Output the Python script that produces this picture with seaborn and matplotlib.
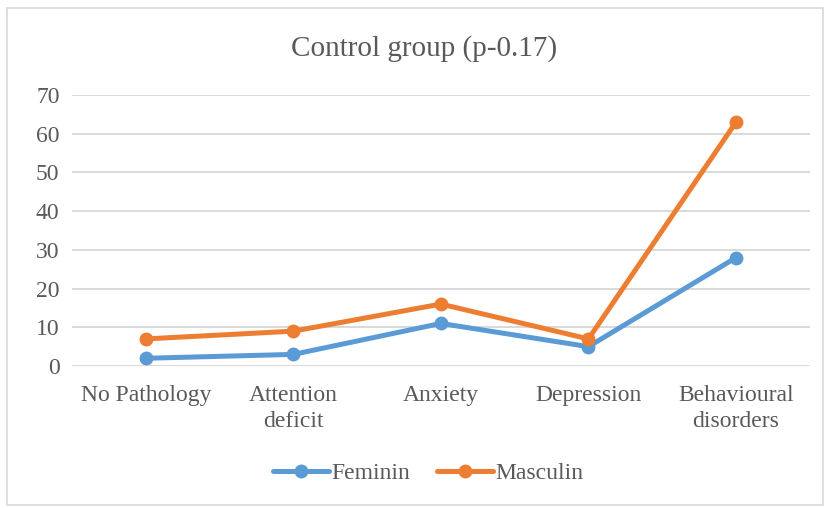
import matplotlib
matplotlib.use("Agg")
import matplotlib.pyplot as plt
import seaborn as sns
import pandas as pd
from matplotlib.patches import Rectangle
from matplotlib.lines import Line2D

categories = ["No Pathology", "Attention\ndeficit", "Anxiety", "Depression", "Behavioural\ndisorders"]
feminin = [2, 3, 11, 5, 28]
masculin = [7, 9, 16, 7, 63]
series_names = ["Feminin", "Masculin"]
yticks = [0, 10, 20, 30, 40, 50, 60, 70]

sns.set_theme(style="white")
plt.rcParams['font.family'] = ['Liberation Serif', 'DejaVu Serif']

rows = []
for i, c in enumerate(categories):
    rows.append({"x": i, "value": feminin[i], "series": series_names[0]})
    rows.append({"x": i, "value": masculin[i], "series": series_names[1]})
df = pd.DataFrame(rows)

fig = plt.figure(figsize=(8.28, 5.08), dpi=100)
ax = fig.add_axes([0.087, 0.2795, 0.891, 0.5335])

palette = {"Feminin": "#5B9BD5", "Masculin": "#ED7D31"}
sns.lineplot(data=df, x="x", y="value", hue="series", palette=palette,
             marker="o", markersize=10, linewidth=3.6, markeredgewidth=0,
             ax=ax, legend=False)

ax.set_xlim(-0.5, 4.5)
ax.set_ylim(0, 70)
ax.set_yticks(yticks)
ax.set_xticks(range(len(categories)))
ax.set_xticklabels(categories, fontsize=17, color="#595959", linespacing=1.3)
ax.set_yticklabels([str(v) for v in yticks], fontsize=17, color="#595959")
ax.tick_params(axis="x", length=0, pad=14)
ax.tick_params(axis="y", length=0, pad=9)
ax.yaxis.grid(True, color="#D9D9D9", linewidth=1.4)
ax.set_axisbelow(True)
for s in ax.spines.values():
    s.set_visible(False)
ax.set_xlabel("")
ax.set_ylabel("")

fig.text(0.512, 0.905, "Control group (p-0.17)", ha="center", va="center",
         fontsize=21, color="#595959")

handles = [Line2D([], [], color=palette[n], linewidth=3.6, marker="o", markersize=10,
                  markeredgewidth=0) for n in series_names]
fig.legend(handles, series_names, loc="center", bbox_to_anchor=(0.5175, 0.068),
           ncol=2, frameon=False, fontsize=17, handlelength=2.37, handletextpad=0.1,
           columnspacing=1.15, labelcolor="#595959")

fig.patches.append(Rectangle((0.009, 0.006), 0.985, 0.978, transform=fig.transFigure,
                             fill=False, edgecolor="#D9D9D9", linewidth=1.2))

fig.savefig("out.png", dpi=100)
